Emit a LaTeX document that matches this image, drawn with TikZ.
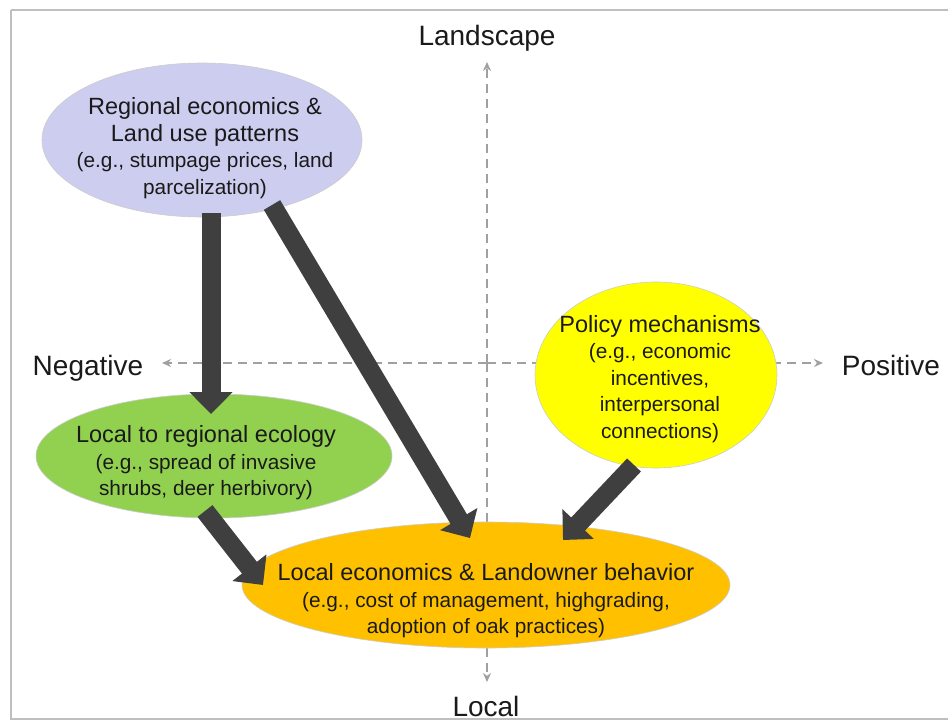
\documentclass[tikz,border=0pt]{standalone}
\usepackage{fontspec}
\setmainfont{Liberation Sans}
\usetikzlibrary{arrows.meta,calc,shapes.geometric}
\definecolor{arrowgray}{HTML}{3F3F3F}
\definecolor{lavender}{HTML}{CDCDF0}
\definecolor{leafgreen}{HTML}{92D050}
\definecolor{sunyellow}{HTML}{FFFF00}
\definecolor{amber}{HTML}{FFC000}
\definecolor{axisgray}{HTML}{A0A0A0}
\definecolor{inkblack}{HTML}{1A1A1A}
\newcommand\ttlfont{\fontsize{23.5}{27}\selectfont}
\newcommand\subfont{\fontsize{20.8}{27}\selectfont}
\begin{document}
\begin{tikzpicture}[x=1pt,y=-1pt,
  bubble/.style={ellipse, draw=black!20, line width=0.6pt, inner sep=0pt},
  axisline/.style={draw=axisgray, line width=1.8pt, dash pattern=on 9pt off 6pt, -{Stealth[length=9pt,width=8pt]}},
  axlabel/.style={anchor=base, text=inkblack, font=\fontsize{28}{32}\selectfont},
  body/.style={align=center, text=inkblack, inner sep=0pt, font=\fontsize{20.8}{26.5}\selectfont},
  bigarrow/.style={draw=arrowgray, line width=19pt, -{Triangle[length=22pt,width=42pt]}}
]
\useasboundingbox (0,0) rectangle (948,721);
\fill[white] (0,0) rectangle (948,721);
\draw[black!25, line width=1.5pt] (11,10) -- (958,10);
\draw[black!25, line width=1.5pt] (11,10) -- (11,719) -- (958,719);

% axes
\coordinate (o) at (487,363);
\coordinate (ytop) at (487,62);
\coordinate (ybot) at (487,682);
\coordinate (xleft) at (162,363);
\coordinate (xright) at (823,363);
\draw[axisline] (o) -- (ytop);
\draw[axisline] (o) -- (ybot);
\draw[axisline] (o) -- (xleft);
\draw[axisline] (o) -- (xright);
\node[axlabel] (land) at (487,45) {Landscape};
\node[axlabel] (neg) at (88,375) {Negative};
\node[axlabel] (pos) at (891,375) {Positive};
\node[axlabel] (loc) at (486,716) {Local};

% bubbles
\node[bubble, fill=lavender, minimum width=320pt, minimum height=154pt] (reg) at (202,140) {};
\node[bubble, fill=leafgreen, minimum width=356pt, minimum height=124pt] (eco) at (214,456) {};
\node[bubble, fill=sunyellow, minimum width=242pt, minimum height=186pt] (pol) at (656,375) {};
\node[bubble, fill=amber, minimum width=488pt, minimum height=126pt] (lea) at (486,585) {};

\node[body] (regt) at (205,148) {\ttlfont Regional economics \&\\\ttlfont Land use patterns\\\subfont (e.g., stumpage prices, land\\\subfont parcelization)};
\node[body] (ecot) at (206,463) {\ttlfont Local to regional ecology\\\subfont (e.g., spread of invasive\\\subfont shrubs, deer herbivory)};
\node[body] (polt) at (660,379) {\ttlfont Policy mechanisms\\\subfont (e.g., economic\\\subfont incentives,\\\subfont interpersonal\\\subfont connections)};
\node[body] (leat) at (486,601) {\ttlfont Local economics \& Landowner behavior\\\subfont (e.g., cost of management, highgrading,\\\subfont adoption of oak practices)};

% big arrows
\draw[bigarrow] ($(reg.center)+(9,73)$) -- ($(eco.center)+(-3,-42)$);
\draw[bigarrow] ($(reg.center)+(70,65)$) -- ($(lea.center)+(-16,-47)$);
\draw[bigarrow] ($(pol.center)+(-22,90)$) -- ($(lea.center)+(77,-45)$);
\draw[bigarrow] ($(eco.center)+(-9,55)$) -- ($(lea.center)+(-223,0)$);
\end{tikzpicture}
\end{document}
